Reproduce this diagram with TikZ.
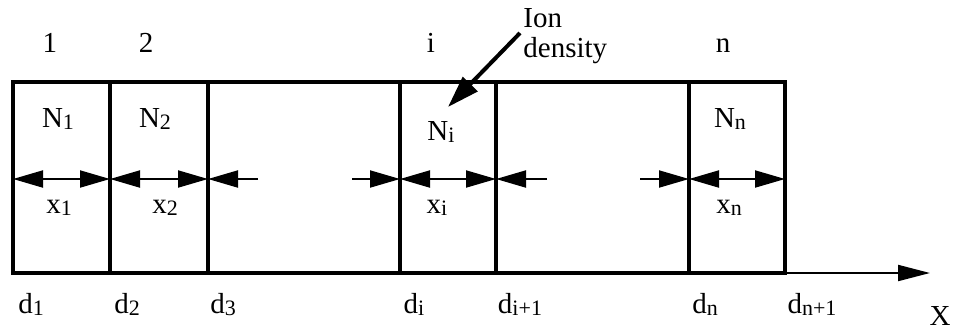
\documentclass[tikz,border=0pt]{standalone}
\usepackage{fontspec}
\setmainfont{Liberation Serif}
\usetikzlibrary{arrows.meta}
\newcommand\subs[1]{\raisebox{-1pt}{\fontsize{11}{12}\selectfont #1}}
\begin{document}
\begin{tikzpicture}[x=0.5pt,y=0.5pt,
  every node/.style={font=\fontsize{14.5}{16}\selectfont,inner sep=0pt,anchor=base},
  wall/.style={line width=2pt},
  dim/.style={line width=1pt,{Triangle[length=15pt,width=8.5pt]}-{Triangle[length=15pt,width=8.5pt]}},
  half/.style={line width=1pt,-{Triangle[length=15pt,width=8.5pt]}},
  axis/.style={line width=1pt,-{Triangle[length=16pt,width=8pt]}},
  pointer/.style={line width=2pt,-{Triangle[length=16pt,width=10pt]}}]
\useasboundingbox (0,0) rectangle (953,329);
% x axis and cells
\coordinate (o) at (13,56);
\coordinate (xend) at (930,56);
\draw[axis] (o) -- (xend);
\draw[wall] (13,56) rectangle (785,247);
\draw[wall] (110,56) -- (110,247) (208,56) -- (208,247) (400,56) -- (400,247)
  (496,56) -- (496,247) (689,56) -- (689,247);
% cell boundaries at the width arrows
\coordinate (b1) at (13,150);
\coordinate (b2) at (110,150);
\coordinate (b3) at (208,150);
\coordinate (b4) at (400,150);
\coordinate (b5) at (496,150);
\coordinate (b6) at (689,150);
\coordinate (b7) at (785,150);
\coordinate (t3) at (258,150);
\coordinate (t4) at (352,150);
\coordinate (t5) at (547,150);
\coordinate (t6) at (640,150);
\draw[dim] (b1) -- (b2);
\draw[dim] (b2) -- (b3);
\draw[half] (t3) -- (b3);
\draw[half] (t4) -- (b4);
\draw[dim] (b4) -- (b5);
\draw[half] (t5) -- (b5);
\draw[half] (t6) -- (b6);
\draw[dim] (b6) -- (b7);
% cell numbers
\node (c1) at (50,277) {1};
\node (c2) at (146,277) {2};
\node (ci) at (431,277) {i};
\node (cn) at (723,277) {n};
% densities
\node (n1) at (58,202) {N\subs{1}};
\node (n2) at (155,202) {N\subs{2}};
\node (ni) at (441,189) {N\subs{i}};
\node (nn) at (730,202) {N\subs{n}};
% widths
\node (x1) at (59,116) {x\subs{1}};
\node (x2) at (165,116) {x\subs{2}};
\node (xi) at (437,116) {x\subs{i}};
\node (xn) at (729,116) {x\subs{n}};
% positions
\node (d1) at (31,16) {d\subs{1}};
\node (d2) at (127,16) {d\subs{2}};
\node (d3) at (223,16) {d\subs{3}};
\node (di) at (414,16) {d\subs{i}};
\node (di1) at (520,16) {d\subs{i+1}};
\node (dn) at (705,16) {d\subs{n}};
\node (dn1) at (812,16) {d\subs{n+1}};
\node (xlab) at (940,4) {X};
% label with pointer
\node[anchor=base west] (ion) at (523,302) {Ion};
\node[anchor=base west] (dens) at (523,272) {density};
\coordinate (tail) at (520,296);
\coordinate (tip) at (448,222);
\draw[pointer] (tail) -- (tip);
\end{tikzpicture}
\end{document}
